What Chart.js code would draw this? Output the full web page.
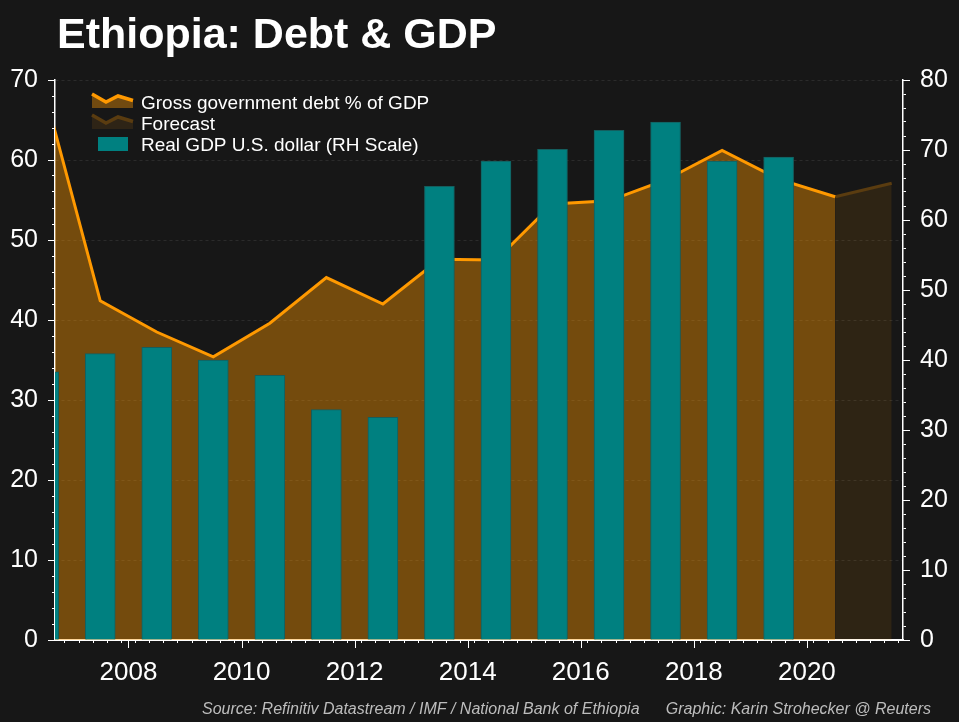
<!DOCTYPE html>
<html>
<head>
<meta charset="utf-8">
<title>Ethiopia: Debt & GDP</title>
<script src="https://cdn.jsdelivr.net/npm/chart.js@4.4.1/dist/chart.umd.min.js"></script>
<style>
  html, body { margin: 0; padding: 0; background: #171717; }
  #wrap { position: relative; width: 959px; height: 722px; }
</style>
</head>
<body>
<div id="wrap"><canvas id="debtChart" width="959" height="722"></canvas></div>
<script>
// data (values sit at mid-year)
const years = [2006, 2007, 2008, 2009, 2010, 2011, 2012, 2013, 2014, 2015, 2016, 2017, 2018, 2019, 2020, 2021];
const debtPct = [68.9, 42.4, 38.5, 35.4, 39.6, 45.3, 42.0, 47.6, 47.5, 54.5, 54.9, 57.5, 61.2, 57.6, 55.4, null];
const debtForecast = [null, null, null, null, null, null, null, null, null, null, null, null, null, null, 55.4, 57.1];
const realGdp = [38.3, 40.9, 41.8, 40.0, 37.8, 32.9, 31.8, 64.8, 68.4, 70.1, 72.8, 74.0, 68.4, 69.0, null, null];
const leftTicks = [0, 10, 20, 30, 40, 50, 60, 70];
const rightTicks = [0, 10, 20, 30, 40, 50, 60, 70, 80];
const yearLabels = [2008, 2010, 2012, 2014, 2016, 2018, 2020];

const FONT = "'Liberation Sans', Arial, sans-serif";

function toPoints(values) {
    return years.map((yr, i) => ({ x: yr + 0.5, y: values[i] })).filter(p => p.y !== null);
}

// quarter-year tick marks along the bottom
const quarterTicks = [];
for (let yr = years[0]; yr <= years[years.length - 1] + 1; yr++) {
    [0, 0.25, 0.5, 0.75].forEach(q => quarterTicks.push(yr + q));
}

const xMin = 2006.7, xMax = 2021.7;

// longer marks on labelled ticks, plus title, legend and source line
const decorations = {
    id: 'decorations',
    afterDraw(chart) {
        const { ctx, scales } = chart;
        const x = scales.x, yL = scales.y, yR = scales.y2;
        ctx.save();
        ctx.strokeStyle = '#ffffff';
        ctx.lineWidth = 1;
        leftTicks.forEach(v => {
            const p = Math.round(yL.getPixelForValue(v)) + 0.5;
            ctx.beginPath(); ctx.moveTo(yL.right - 7, p); ctx.lineTo(yL.right, p); ctx.stroke();
        });
        rightTicks.forEach(v => {
            const p = Math.round(yR.getPixelForValue(v)) + 0.5;
            ctx.beginPath(); ctx.moveTo(yR.left, p); ctx.lineTo(yR.left + 7, p); ctx.stroke();
        });
        yearLabels.forEach(v => {
            const p = Math.round(x.getPixelForValue(v)) + 0.5;
            ctx.beginPath(); ctx.moveTo(p, x.top); ctx.lineTo(p, x.top + 8); ctx.stroke();
        });

        // title
        ctx.fillStyle = '#ffffff';
        ctx.font = 'bold 43px ' + FONT;
        ctx.textBaseline = 'alphabetic';
        ctx.textAlign = 'left';
        ctx.fillText('Ethiopia: Debt & GDP', 57, 48);

        // legend
        const zig = (oy, line, fill) => {
            ctx.beginPath();
            ctx.moveTo(92, 94 + oy); ctx.lineTo(106, 102 + oy); ctx.lineTo(118, 96 + oy); ctx.lineTo(133, 100.5 + oy);
            ctx.lineTo(133, 108 + oy); ctx.lineTo(92, 108 + oy); ctx.closePath();
            ctx.fillStyle = fill; ctx.fill();
            ctx.beginPath();
            ctx.moveTo(92, 94 + oy); ctx.lineTo(106, 102 + oy); ctx.lineTo(118, 96 + oy); ctx.lineTo(133, 100.5 + oy);
            ctx.strokeStyle = line; ctx.lineWidth = 3.5; ctx.lineJoin = 'miter'; ctx.stroke();
        };
        zig(0, '#ff9900', '#714a10');
        zig(21, '#5a3c10', '#2e2416');
        ctx.fillStyle = '#008080';
        ctx.fillRect(98, 137, 30, 14);
        ctx.fillStyle = '#ffffff';
        ctx.font = '19px ' + FONT;
        ctx.fillText('Gross government debt % of GDP', 141, 109);
        ctx.fillText('Forecast', 141, 130);
        ctx.fillText('Real GDP U.S. dollar (RH Scale)', 141, 151);

        // source
        ctx.fillStyle = '#bdbdbd';
        ctx.font = 'italic 16px ' + FONT;
        ctx.fillText('Source: Refinitiv Datastream / IMF / National Bank of Ethiopia', 202, 714);
        ctx.textAlign = 'right';
        ctx.fillText('Graphic: Karin Strohecker @ Reuters', 931, 714);
        ctx.restore();
    }
};

document.addEventListener('DOMContentLoaded', function() {
    const ctx = document.getElementById('debtChart').getContext('2d');
    new Chart(ctx, {
        type: 'bar',
        data: {
            datasets: [{
                label: 'Real GDP U.S. dollar (RH Scale)',
                data: toPoints(realGdp),
                yAxisID: 'y2',
                backgroundColor: '#008080',
                borderColor: '#145e5e',
                borderWidth: 1,
                barThickness: 30,
                clip: 0,
                order: 0
            },
            {
                type: 'line',
                label: 'Gross government debt % of GDP',
                data: toPoints(debtPct),
                yAxisID: 'y',
                borderColor: '#ff9900',
                borderWidth: 3,
                backgroundColor: 'rgba(255,153,0,0.405)',
                fill: 'origin',
                tension: 0,
                pointRadius: 0,
                clip: 0,
                order: 1
            },
            {
                type: 'line',
                label: 'Forecast',
                data: toPoints(debtForecast),
                yAxisID: 'y',
                borderColor: '#5a3c10',
                borderWidth: 3,
                backgroundColor: 'rgba(255,153,0,0.1)',
                fill: 'origin',
                tension: 0,
                pointRadius: 0,
                clip: 0,
                order: 2
            }]
        },
        options: {
            responsive: false,
            animation: false,
            layout: { padding: { top: 80, left: 0, right: 0, bottom: 0 } },
            plugins: {
                legend: { display: false },
                tooltip: { enabled: false }
            },
            scales: {
                x: {
                    type: 'linear',
                    min: xMin,
                    max: xMax,
                    offset: false,
                    afterBuildTicks: s => { s.ticks = quarterTicks.filter(v => v > xMin && v < xMax).map(v => ({ value: v })); },
                    afterFit: s => { s.height = 82; },
                    ticks: {
                        autoSkip: false,
                        maxRotation: 0,
                        padding: 14,
                        color: '#ffffff',
                        font: { family: FONT, size: 26 },
                        callback: v => yearLabels.includes(v) ? String(v) : ''
                    },
                    grid: { drawOnChartArea: false, drawTicks: true, tickLength: 3, tickColor: '#ffffff' },
                    border: { color: '#ffffff', width: 2 }
                },
                y: {
                    position: 'left',
                    min: 0,
                    max: 70,
                    afterFit: s => { s.width = 55; },
                    ticks: {
                        stepSize: 2,
                        autoSkip: false,
                        padding: 14,
                        color: '#ffffff',
                        font: { family: FONT, size: 25 },
                        callback: v => leftTicks.includes(v) ? String(v) : ''
                    },
                    grid: {
                        color: c => (c.tick && leftTicks.includes(c.tick.value)) ? 'rgba(255,255,255,0.09)' : 'rgba(0,0,0,0)',
                        tickColor: '#ffffff',
                        tickLength: 3
                    },
                    border: { color: '#ffffff', width: 1.5, dash: [3, 3] }
                },
                y2: {
                    position: 'right',
                    min: 0,
                    max: 80,
                    afterFit: s => { s.width = 56; },
                    ticks: {
                        stepSize: 2,
                        autoSkip: false,
                        padding: 14,
                        color: '#ffffff',
                        font: { family: FONT, size: 25 },
                        callback: v => rightTicks.includes(v) ? String(v) : ''
                    },
                    grid: { drawOnChartArea: false, tickColor: '#ffffff', tickLength: 3 },
                    border: { color: '#ffffff', width: 1.5 }
                }
            }
        },
        plugins: [decorations]
    });
});
</script>
</body>
</html>
